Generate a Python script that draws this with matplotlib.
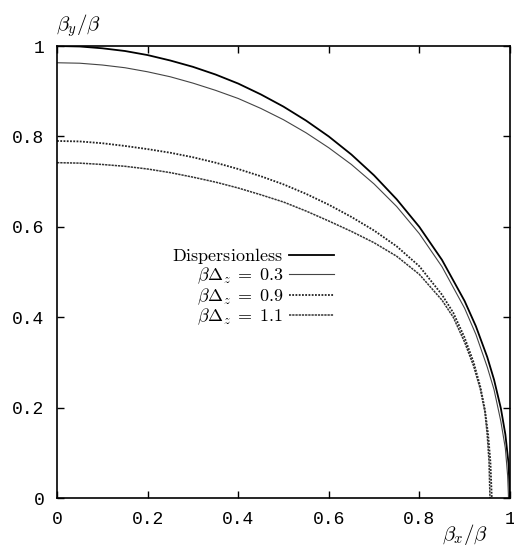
import matplotlib.pyplot as plt
import numpy as np

plt.switch_backend('agg')
plt.rcParams['mathtext.fontset'] = 'cm'

# Curves (beta_x/beta, beta_y/beta)
x_disp = [0.0, 0.05, 0.1, 0.15, 0.2, 0.25, 0.3, 0.35, 0.4, 0.45, 0.5, 0.55, 0.6, 0.65,
          0.7, 0.75, 0.8, 0.85, 0.9, 0.925, 0.95, 0.965, 0.98, 0.99, 0.997, 1.0]
y_disp = [1.0, 0.999, 0.995, 0.989, 0.98, 0.968, 0.954, 0.937, 0.917, 0.893, 0.866, 0.835,
          0.8, 0.76, 0.714, 0.661, 0.6, 0.527, 0.436, 0.38, 0.312, 0.262, 0.199, 0.141, 0.077, 0.0]

x_03 = [0.0, 0.05, 0.1, 0.15, 0.2, 0.25, 0.3, 0.35, 0.4, 0.45, 0.5, 0.55, 0.6, 0.65,
        0.7, 0.75, 0.8, 0.85, 0.9, 0.925, 0.95, 0.965, 0.98, 0.99, 0.995, 0.997]
y_03 = [0.963, 0.962, 0.958, 0.952, 0.943, 0.932, 0.918, 0.902, 0.884, 0.862, 0.837, 0.808,
        0.775, 0.738, 0.695, 0.645, 0.585, 0.512, 0.42, 0.362, 0.29, 0.24, 0.17, 0.11, 0.05, 0.0]

x_09 = [0.0, 0.05, 0.1, 0.15, 0.2, 0.25, 0.3, 0.35, 0.4, 0.45, 0.5, 0.55, 0.6, 0.65,
        0.7, 0.75, 0.8, 0.85, 0.875, 0.9, 0.92, 0.935, 0.945, 0.952, 0.957, 0.96]
y_09 = [0.79, 0.789, 0.785, 0.779, 0.772, 0.764, 0.754, 0.742, 0.728, 0.712, 0.694, 0.673,
        0.649, 0.622, 0.592, 0.557, 0.513, 0.45, 0.41, 0.355, 0.3, 0.245, 0.195, 0.14, 0.08, 0.0]

x_11 = [0.0, 0.05, 0.1, 0.15, 0.2, 0.25, 0.3, 0.35, 0.4, 0.45, 0.5, 0.55, 0.6, 0.65,
        0.7, 0.75, 0.8, 0.85, 0.875, 0.9, 0.92, 0.935, 0.945, 0.95, 0.954, 0.956]
y_11 = [0.742, 0.741, 0.738, 0.734, 0.728, 0.72, 0.71, 0.699, 0.686, 0.671, 0.655, 0.635,
        0.613, 0.59, 0.565, 0.535, 0.495, 0.438, 0.4, 0.345, 0.292, 0.24, 0.19, 0.14, 0.08, 0.0]

labels = [r'$\mathrm{Dispersionless}$', r'$\beta\Delta_z\;=\;0.3$',
          r'$\beta\Delta_z\;=\;0.9$', r'$\beta\Delta_z\;=\;1.1$']
ticks = [0, 0.2, 0.4, 0.6, 0.8, 1]
tick_labels = ['0', '0.2', '0.4', '0.6', '0.8', '1']

fig = plt.figure(figsize=(5.14, 5.48), dpi=100)
ax = fig.add_axes([0.111, 0.091, 0.881, 0.825])

ax.plot(x_disp, y_disp, color='black', lw=1.3, label=labels[0])
ax.plot(x_03, y_03, color='#444444', lw=0.8, label=labels[1])
ax.plot(x_09, y_09, color='#222222', lw=1.3, linestyle=(0, (1, 0.8)), label=labels[2])
ax.plot(x_11, y_11, color='#333333', lw=1.1, linestyle=(0, (1.5, 0.6)), label=labels[3])

ax.set_xlim(0, 1)
ax.set_ylim(0, 1)
ax.set_xticks(ticks)
ax.set_yticks(ticks)
ax.set_xticklabels(tick_labels, family='Liberation Mono', fontsize=13)
ax.set_yticklabels(tick_labels, family='Liberation Mono', fontsize=13)
ax.tick_params(direction='in', top=True, right=True, length=5, width=1)
ax.tick_params(axis='x', pad=9)
ax.tick_params(axis='y', pad=9)
for s in ax.spines.values():
    s.set_linewidth(1.2)

leg = ax.legend(loc='upper right', bbox_to_anchor=(0.611, 0.558), frameon=False,
                markerfirst=False, fontsize=13, handlelength=2.5,
                labelspacing=0.0, handletextpad=0.3, borderpad=0, borderaxespad=0)
for t in leg.get_texts():
    t.set_ha('right')

fig.text(0.152, 0.953, r'$\beta_y/\beta$', fontsize=15, ha='center', va='center')
fig.text(0.905, 0.025, r'$\beta_x/\beta$', fontsize=15, ha='center', va='center')

fig.savefig('out.png', dpi=100)
